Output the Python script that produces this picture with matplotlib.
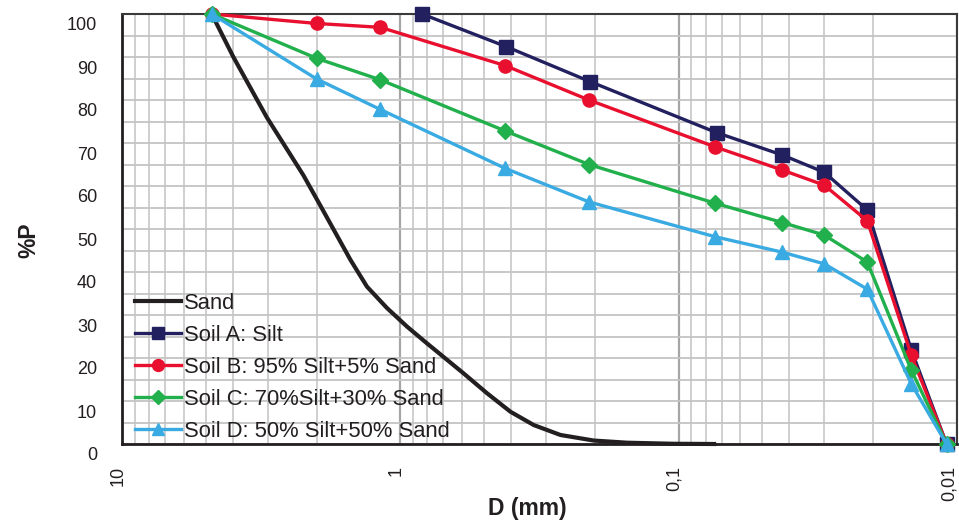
import matplotlib
matplotlib.use('Agg')
import matplotlib.pyplot as plt
import matplotlib.transforms as mtransforms
from matplotlib.ticker import FixedLocator, LogLocator, NullFormatter, MultipleLocator

plt.rcParams['font.family'] = ['Liberation Sans', 'DejaVu Sans']

# ---- data ----
sand_d = [4.76, 3.98, 3.02, 2.23, 1.94, 1.69, 1.51, 1.318, 1.116, 0.946, 0.802, 0.689,
          0.592, 0.488, 0.402, 0.3315, 0.266, 0.2017, 0.153, 0.104, 0.0746]
sand_p = [100, 90.0, 76.0, 62.5, 55.5, 48.5, 42.8, 36.6, 31.6, 27.3, 23.4, 19.9,
          16.4, 11.8, 7.5, 4.4, 2.1, 0.8, 0.3, 0.05, 0.0]

soil_a_d = [0.835, 0.416, 0.2085, 0.073, 0.0424, 0.030, 0.021, 0.0146, 0.0109]
soil_a_p = [100, 92.4, 84.3, 72.4, 67.2, 63.2, 54.4, 21.9, 0.0]

soil_b_d = [4.76, 2.0, 1.18, 0.42, 0.21, 0.074, 0.0424, 0.030, 0.021, 0.0146, 0.0109]
soil_b_p = [100, 97.8, 96.9, 88.0, 80.0, 69.1, 63.7, 60.2, 51.9, 20.7, 0.0]

soil_c_d = [4.76, 2.0, 1.18, 0.42, 0.21, 0.074, 0.0424, 0.030, 0.021, 0.0146, 0.0109]
soil_c_p = [100, 89.7, 84.7, 72.8, 65.0, 56.0, 51.5, 48.6, 42.3, 17.2, 0.0]

soil_d_d = [4.76, 2.0, 1.18, 0.42, 0.21, 0.074, 0.0424, 0.030, 0.021, 0.0146, 0.0109]
soil_d_p = [100, 84.9, 77.8, 64.1, 56.3, 48.2, 44.6, 41.9, 36.0, 14.0, 0.0]

x_ticks = [10, 1, 0.1, 0.01]
x_tick_labels = ["10", "1", "0,1", "0,01"]
y_ticks = [0, 10, 20, 30, 40, 50, 60, 70, 80, 90, 100]

labels = ["Sand", "Soil A: Silt", "Soil B: 95% Silt+5% Sand",
          "Soil C: 70%Silt+30% Sand", "Soil D: 50% Silt+50% Sand"]

# ---- figure ----
fig = plt.figure(figsize=(9.59, 5.2), dpi=100)
ax = fig.add_axes([122 / 959, 76 / 520, 835 / 959, 430 / 520])
ax.set_xscale('log')
ax.set_xlim(10, 0.01)
ax.set_ylim(0, 100)

ax.xaxis.set_major_locator(FixedLocator(x_ticks))
ax.set_xticklabels(x_tick_labels)
ax.xaxis.set_minor_locator(LogLocator(base=10, subs=[2, 3, 4, 5, 6, 7, 8, 9]))
ax.xaxis.set_minor_formatter(NullFormatter())
ax.yaxis.set_major_locator(FixedLocator(y_ticks))
ax.yaxis.set_minor_locator(MultipleLocator(5))

ax.grid(which='minor', axis='x', color='#cbcbcb', lw=1.3)
ax.grid(which='major', axis='x', color='#a6a6a6', lw=1.6)
ax.grid(which='both', axis='y', color='#c4c4c4', lw=1.3)
ax.set_axisbelow(True)

ax.tick_params(which='both', length=0)
ax.tick_params(axis='y', labelsize=13, pad=18, labelcolor='#231f20')
ax.tick_params(axis='x', labelsize=13, pad=16, labelrotation=90, labelcolor='#231f20')

for lab in ax.get_yticklabels():
    lab.set_transform(lab.get_transform() + mtransforms.ScaledTranslation(0, -0.10, fig.dpi_scale_trans))
xlabs = ax.get_xticklabels()
for i, lab in enumerate(xlabs):
    dx = -0.04 if i < len(xlabs) - 1 else -0.075
    lab.set_transform(lab.get_transform() + mtransforms.ScaledTranslation(dx, 0, fig.dpi_scale_trans))

for s in ['left', 'bottom']:
    ax.spines[s].set_color('#231f20')
    ax.spines[s].set_linewidth(2.0)
for s in ['top', 'right']:
    ax.spines[s].set_color('#3a3a3a')
    ax.spines[s].set_linewidth(1.5)

lw = 2.4
ax.plot(sand_d, sand_p, color='#231f20', lw=lw + 0.6, label=labels[0], clip_on=False, zorder=3,
        solid_joinstyle='round')
ax.plot(soil_a_d, soil_a_p, color='#22205e', lw=lw, marker='s', ms=9.5, label=labels[1], clip_on=False, zorder=4)
ax.plot(soil_b_d, soil_b_p, color='#e8102e', lw=lw, marker='o', ms=9.5, label=labels[2], clip_on=False, zorder=5)
ax.plot(soil_c_d, soil_c_p, color='#21b04b', lw=lw, marker='D', ms=8, label=labels[3], clip_on=False, zorder=6)
ax.plot(soil_d_d, soil_d_p, color='#39abe2', lw=lw, marker='^', ms=10, label=labels[4], clip_on=False, zorder=7)

leg = ax.legend(loc='lower left', frameon=False, fontsize=15.8, handlelength=2.1,
                handletextpad=0.15, labelspacing=0.5, borderaxespad=0.1, borderpad=0.0,
                bbox_to_anchor=(0.0125, 0.0), markerscale=0.9)
leg.set_zorder(10)
for t in leg.get_texts():
    t.set_color('#231f20')

fig.text(527 / 959, 1 - 508 / 520, "D (mm)", fontsize=16.5, fontweight='bold',
         ha='center', va='center', color='#231f20')
fig.text(29 / 959, 1 - 240 / 520, "%P", fontsize=16.5, fontweight='bold',
         ha='center', va='center', rotation=90, color='#231f20')

fig.savefig('out.png', dpi=100)
